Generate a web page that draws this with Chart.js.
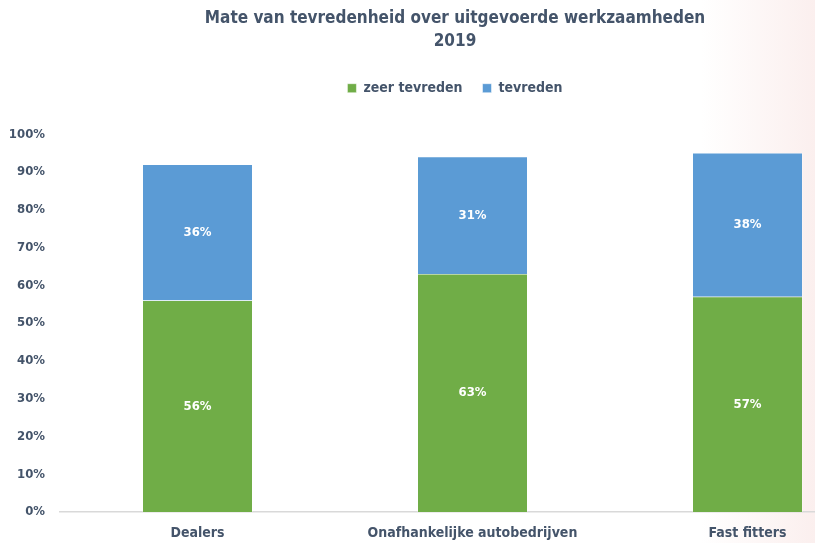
<!DOCTYPE html>
<html>
<head>
<meta charset="utf-8">
<script src="https://cdn.jsdelivr.net/npm/chart.js@4.4.1/dist/chart.umd.min.js"></script>
<style>
  html, body { margin: 0; padding: 0; overflow: hidden; }
  body { width: 815px; height: 543px; background: linear-gradient(to right, #ffffff 0%, #ffffff 86%, #fbefee 100%); }
  #wrap { position: relative; width: 910px; height: 543px; }
</style>
</head>
<body>
<div id="wrap"><canvas id="chart"></canvas></div>
<script>
var categories = ['Dealers', 'Onafhankelijke autobedrijven', 'Fast fitters'];
var zeerTevreden = [56, 63, 57];
var tevreden = [36, 31, 38];
var yTicks = [0, 10, 20, 30, 40, 50, 60, 70, 80, 90, 100];

var FONT = '"DejaVu Sans Condensed", "Liberation Sans Narrow", Roboto, sans-serif';
var TEXT = '#44546a';

// draws the white percentage inside every bar segment
var barLabels = {
    id: 'barLabels',
    afterDatasetsDraw: function(chart) {
        var ctx = chart.ctx;
        ctx.save();
        ctx.fillStyle = '#ffffff';
        ctx.font = 'bold 13px ' + FONT;
        ctx.textAlign = 'center';
        ctx.textBaseline = 'middle';
        chart.data.datasets.forEach(function(ds, i) {
            chart.getDatasetMeta(i).data.forEach(function(bar, j) {
                var c = bar.getCenterPoint();
                ctx.fillText(ds.data[j] + '%', c.x, c.y);
            });
        });
        ctx.restore();
    }
};

// extra space under the legend, title + legend centred on the full canvas
var legendGap = {
    id: 'legendGap',
    beforeInit: function(chart) {
        var fit = chart.legend.fit;
        chart.legend.fit = function() {
            fit.bind(chart.legend)();
            this.height += 29;
        };
    },
    afterLayout: function(chart) {
        [chart.titleBlock, chart.legend].forEach(function(box) {
            if (!box) return;
            box.left = 0;
            box.right = chart.width;
            box.width = chart.width;
        });
    }
};

new Chart(document.getElementById('chart'), {
    type: 'bar',
    data: {
        labels: categories,
        datasets: [
            {
                label: 'zeer tevreden',
                data: zeerTevreden,
                backgroundColor: '#70ad47',
                borderColor: '#ffffff',
                borderWidth: 0.5,
                barPercentage: 0.4,
                categoryPercentage: 1
            },
            {
                label: 'tevreden',
                data: tevreden,
                backgroundColor: '#5b9bd5',
                borderColor: '#ffffff',
                borderWidth: 0.5,
                barPercentage: 0.4,
                categoryPercentage: 1
            }
        ]
    },
    options: {
        responsive: true,
        maintainAspectRatio: false,
        animation: false,
        layout: { padding: { left: 0, right: 25, top: 8, bottom: 0 } },
        plugins: {
            title: {
                display: true,
                text: ['Mate van tevredenheid over uitgevoerde werkzaamheden', '2019'],
                color: TEXT,
                font: { family: FONT, size: 17, weight: 'bold', lineHeight: 1.3 },
                padding: { top: 0, bottom: 9 }
            },
            legend: {
                position: 'top',
                labels: {
                    color: TEXT,
                    font: { family: FONT, size: 14, weight: 'bold' },
                    boxWidth: 9,
                    boxHeight: 9,
                    padding: 20
                }
            },
            tooltip: { enabled: false }
        },
        scales: {
            x: {
                stacked: true,
                grid: { display: false },
                border: { color: '#d9d9d9', width: 1.5 },
                ticks: { color: TEXT, font: { family: FONT, size: 14, weight: 'bold' }, padding: 5 },
                afterFit: function(axis) { axis.height = 31; }
            },
            y: {
                stacked: true,
                min: 0,
                max: 100,
                grid: { display: false },
                border: { display: false },
                afterBuildTicks: function(axis) {
                    axis.ticks = yTicks.map(function(v) { return { value: v }; });
                },
                afterFit: function(axis) { axis.width = 60; },
                ticks: {
                    color: TEXT,
                    font: { family: FONT, size: 13, weight: 'bold' },
                    padding: 7,
                    callback: function(v) { return v + '%'; }
                }
            }
        }
    },
    plugins: [barLabels, legendGap]
});
</script>
</body>
</html>
